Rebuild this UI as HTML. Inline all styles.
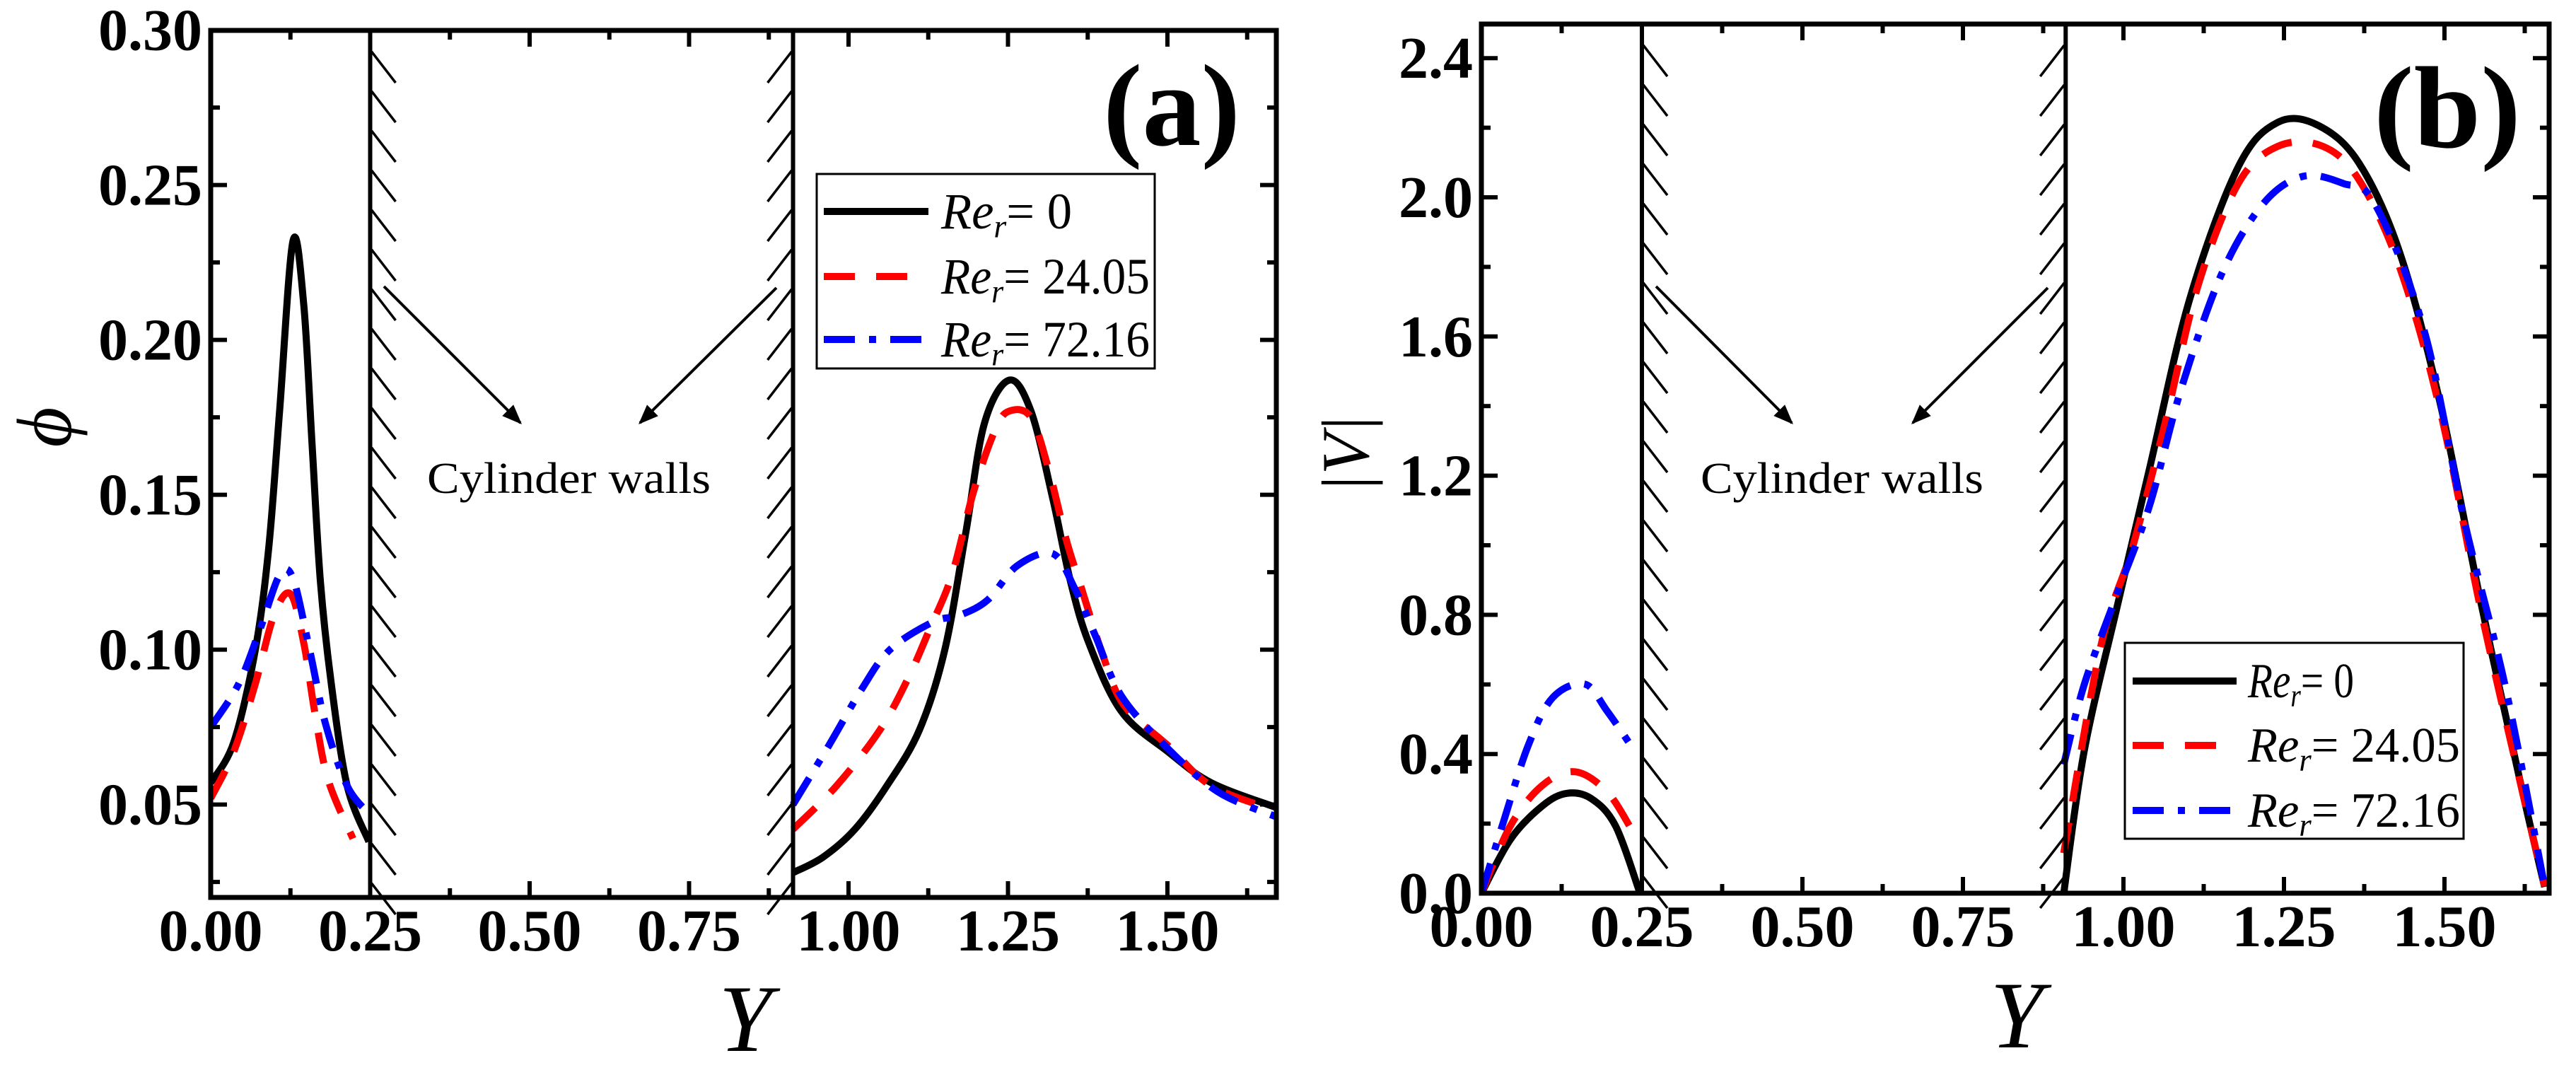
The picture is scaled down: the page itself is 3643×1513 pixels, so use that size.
<!DOCTYPE html>
<html><head><meta charset="utf-8">
<style>
html,body{margin:0;padding:0;background:#fff;}
svg{display:block;}
text{font-family:"Liberation Serif",serif;}
</style></head>
<body>
<svg id="fig" width="3643" height="1513" viewBox="0 0 3643 1513" xmlns="http://www.w3.org/2000/svg">
<defs>
<clipPath id="clipA"><rect x="298" y="43" width="1507" height="1226"/></clipPath>
<clipPath id="clipB"><rect x="2095" y="34" width="1510" height="1229"/></clipPath>
<marker id="arr" viewBox="0 0 10 10" refX="9" refY="5" markerWidth="7" markerHeight="7" orient="auto"><path d="M0,1 L10,5 L0,9 z" fill="#000"/></marker>
</defs>
<g id="panelA"></g>
<g id="panelB"></g>
</svg>
<script>
// ---------- Panel (a): phi ----------
const aBlackL_x=[0,0.036,0.07,0.091,0.108,0.129,0.146,0.159,0.172,0.189,0.214,0.248];
const aBlackL_y=[0.057,0.070,0.100,0.133,0.177,0.232,0.211,0.166,0.122,0.089,0.056,0.038];
const aRedL_x=[0,0.036,0.07,0.099,0.125,0.146,0.163,0.184,0.223];
const aRedL_y=[0.052,0.067,0.089,0.111,0.118,0.102,0.080,0.058,0.039];
const aBlueL_x=[0,0.044,0.078,0.108,0.129,0.155,0.180,0.214,0.248];
const aBlueL_y=[0.075,0.089,0.107,0.124,0.123,0.100,0.076,0.056,0.047];
const aBlackR_x=[0.913,0.960,1.010,1.060,1.111,1.151,1.184,1.213,1.252,1.286,1.320,1.348,1.377,1.428,1.501,1.569,1.671];
const aBlackR_y=[0.028,0.033,0.042,0.056,0.074,0.100,0.138,0.173,0.187,0.177,0.149,0.122,0.102,0.080,0.067,0.057,0.049];
const aRedR_x=[0.913,0.981,1.049,1.094,1.128,1.162,1.196,1.230,1.252,1.286,1.314,1.342,1.365,1.399,1.432,1.501,1.569,1.671];
const aRedR_y=[0.042,0.056,0.074,0.091,0.107,0.124,0.151,0.171,0.177,0.175,0.158,0.135,0.120,0.098,0.082,0.069,0.056,0.048];
const aBlueR_x=[0.913,0.969,1.020,1.065,1.133,1.173,1.218,1.264,1.320,1.354,1.388,1.428,1.501,1.580,1.671];
const aBlueR_y=[0.050,0.069,0.087,0.100,0.109,0.111,0.116,0.127,0.131,0.120,0.104,0.085,0.068,0.054,0.046];
const aYTicks=[0.05,0.10,0.15,0.20,0.25,0.30];
const aYLabels=["0.05","0.10","0.15","0.20","0.25","0.30"];
const xTicks=[0,0.25,0.5,0.75,1.0,1.25,1.5];
const xLabels=["0.00","0.25","0.50","0.75","1.00","1.25","1.50"];
// ---------- Panel (b): |V| ----------
const bBlackL_x=[0,0.045,0.095,0.133,0.171,0.209,0.247];
const bBlackL_y=[0,0.154,0.251,0.287,0.272,0.193,0];
const bRedL_x=[0,0.045,0.095,0.146,0.196,0.234];
const bRedL_y=[0,0.193,0.310,0.349,0.291,0.183];
const bBlueL_x=[0,0.035,0.073,0.111,0.161,0.196,0.240];
const bBlueL_y=[0,0.209,0.425,0.562,0.601,0.523,0.405];
const bBlackR_x=[0.907,0.939,0.990,1.040,1.103,1.179,1.241,1.304,1.367,1.430,1.493,1.556,1.619,1.656];
const bBlackR_y=[0,0.410,0.822,1.215,1.706,2.088,2.216,2.206,2.098,1.843,1.411,0.842,0.312,0.018];
const bRedR_x=[0.907,0.964,1.015,1.065,1.116,1.179,1.241,1.310,1.367,1.430,1.493,1.556,1.619,1.656];
const bRedR_y=[0.115,0.704,0.999,1.352,1.745,2.04,2.147,2.147,2.05,1.80,1.39,0.82,0.31,0.02];
const bBlueR_x=[0.907,0.939,0.990,1.040,1.090,1.153,1.217,1.279,1.342,1.392,1.468,1.531,1.594,1.656];
const bBlueR_y=[0.37,0.60,0.86,1.11,1.45,1.78,1.98,2.06,2.04,1.98,1.62,1.07,0.60,0.02];
const bYTicks=[0,0.4,0.8,1.2,1.6,2.0,2.4];
const bYLabels=["0.0","0.4","0.8","1.2","1.6","2.0","2.4"];
const legendLabels=["0","24.05","72.16"];

const NS="http://www.w3.org/2000/svg";
function el(tag,attrs,parent,txt){const e=document.createElementNS(NS,tag);for(const k in attrs)e.setAttribute(k,attrs[k]);if(txt!==undefined)e.textContent=txt;parent.appendChild(e);return e;}
function smooth(xs,ys,fx,fy){
  const p=xs.map((x,i)=>[fx(x),fy(ys[i])]);
  let d="M"+p[0][0].toFixed(1)+","+p[0][1].toFixed(1);
  for(let i=0;i<p.length-1;i++){
    const p0=p[i-1]||p[i],p1=p[i],p2=p[i+1],p3=p[i+2]||p2;
    const c1=[p1[0]+(p2[0]-p0[0])/6,p1[1]+(p2[1]-p0[1])/6];
    const c2=[p2[0]-(p3[0]-p1[0])/6,p2[1]-(p3[1]-p1[1])/6];
    d+=" C"+c1[0].toFixed(1)+","+c1[1].toFixed(1)+" "+c2[0].toFixed(1)+","+c2[1].toFixed(1)+" "+p2[0].toFixed(1)+","+p2[1].toFixed(1);
  }
  return d;
}
const styles={black:{stroke:"#000",dash:"none"},red:{stroke:"#ff0000",dash:"44 30"},blue:{stroke:"#0000ff",dash:"44 20 10 20"}};

function panel(g,cfg){
  const {x0,x1,top,bot,fx,fy,clip,scale}=cfg;
  const cg=el("g",{"clip-path":"url(#"+clip+")"},g);
  cfg.series.forEach(s=>{
    const p=el("path",{d:smooth(s.x,s.y,fx,fy),fill:"none",stroke:styles[s.c].stroke,"stroke-width":10,"stroke-dasharray":styles[s.c].dash,"stroke-linejoin":"round"},cg);
    
    
  });
  // walls
  [0.25,cfg.wall2].forEach((w,wi)=>{
    const X=fx(w);
    const l=el("line",{x1:X,y1:top,x2:X,y2:bot,stroke:"#000","stroke-width":6},g);
    
    
    for(let yy=top+30;yy<bot-10;yy+=56){
      if(wi===0) el("line",{x1:X+2,y1:yy,x2:X+36,y2:yy+44,stroke:"#000","stroke-width":3.5},g);
      else el("line",{x1:X-2,y1:yy,x2:X-36,y2:yy+44,stroke:"#000","stroke-width":3.5},g);
    }
  });
  // frame
  const fr=el("rect",{x:x0,y:top,width:x1-x0,height:bot-top,fill:"none",stroke:"#000","stroke-width":7},g);
  
  
  // x ticks
  for(let i=0;i<=13;i++){
    const X=fx(i*0.125);if(X>x1)break;const L=i%2===0?23:13;
    el("line",{x1:X,y1:bot,x2:X,y2:bot-L,stroke:"#000","stroke-width":6},g);
    el("line",{x1:X,y1:top,x2:X,y2:top+L,stroke:"#000","stroke-width":6},g);
  }
  xTicks.forEach((v,i)=>{
    const t=el("text",{x:fx(v),y:bot+75,"font-size":84,"font-weight":"bold","text-anchor":"middle"},g,xLabels[i]);
    
    
  });
  // y ticks
  cfg.yMinor.forEach(v=>{const Y=fy(v);
    el("line",{x1:x0,y1:Y,x2:x0+13,y2:Y,stroke:"#000","stroke-width":6},g);
    el("line",{x1:x1,y1:Y,x2:x1-13,y2:Y,stroke:"#000","stroke-width":6},g);});
  cfg.yTicks.forEach((v,i)=>{const Y=fy(v);
    el("line",{x1:x0,y1:Y,x2:x0+23,y2:Y,stroke:"#000","stroke-width":6},g);
    el("line",{x1:x1,y1:Y,x2:x1-23,y2:Y,stroke:"#000","stroke-width":6},g);
    const t=el("text",{x:x0-12,y:Y+28,"font-size":84,"font-weight":"bold","text-anchor":"end"},g,cfg.yLabels[i]);
    
    
  });
}

const gA=document.getElementById("panelA");
const fxA=v=>298+v*902, fyA=v=>1269-(v-0.02)*4380;
const aMinor=[0.025,0.075,0.125,0.175,0.225,0.275];
panel(gA,{x0:298,x1:1805,top:43,bot:1269,fx:fxA,fy:fyA,clip:"clipA",wall2:0.913,yTicks:aYTicks,yLabels:aYLabels,yMinor:aMinor,
 series:[{x:aBlackL_x,y:aBlackL_y,c:"black",name:"curve-re0-left"},{x:aRedL_x,y:aRedL_y,c:"red",name:"curve-re24-left"},{x:aBlueL_x,y:aBlueL_y,c:"blue",name:"curve-re72-left"},
 {x:aBlackR_x,y:aBlackR_y,c:"black",name:"curve-re0-right"},{x:aRedR_x,y:aRedR_y,c:"red",name:"curve-re24-right"},{x:aBlueR_x,y:aBlueR_y,c:"blue",name:"curve-re72-right"}]});

const gB=document.getElementById("panelB");
const fxB=v=>2095+v*908, fyB=v=>1263-v*492;
const bMinor=[0.2,0.6,1.0,1.4,1.8,2.2];
panel(gB,{x0:2095,x1:3605,top:34,bot:1263,fx:fxB,fy:fyB,clip:"clipB",wall2:0.910,yTicks:bYTicks,yLabels:bYLabels,yMinor:bMinor,
 series:[{x:bBlackL_x,y:bBlackL_y,c:"black",name:"curve-re0-left"},{x:bRedL_x,y:bRedL_y,c:"red",name:"curve-re24-left"},{x:bBlueL_x,y:bBlueL_y,c:"blue",name:"curve-re72-left"},
 {x:bBlackR_x,y:bBlackR_y,c:"black",name:"curve-re0-right"},{x:bRedR_x,y:bRedR_y,c:"red",name:"curve-re24-right"},{x:bBlueR_x,y:bBlueR_y,c:"blue",name:"curve-re72-right"}]});

// annotations
function arrow(g,x1,y1,x2,y2){const a=el("line",{x1:x1,y1:y1,x2:x2,y2:y2,stroke:"#000","stroke-width":4,"marker-end":"url(#arr)"},g);
  
  }
arrow(gA,543,405,736,598); arrow(gA,1098,407,905,598);
arrow(gB,2342,405,2534,598); arrow(gB,2896,407,2705,598);
let t=el("text",{x:604,y:697,"font-size":62,textLength:401,lengthAdjust:"spacingAndGlyphs"},gA,"Cylinder walls");


t=el("text",{x:2405,y:697,"font-size":62,textLength:400,lengthAdjust:"spacingAndGlyphs"},gB,"Cylinder walls");


t=el("text",{x:1560,y:205,"font-size":165,"font-weight":"bold",textLength:194,lengthAdjust:"spacingAndGlyphs"},gA,"(a)");


t=el("text",{x:3357,y:208,"font-size":165,"font-weight":"bold",textLength:208,lengthAdjust:"spacingAndGlyphs"},gB,"(b)");


t=el("text",{x:1054,y:1486,"font-size":135,"font-style":"italic","text-anchor":"middle"},gA,"Y");


t=el("text",{x:2852,y:1481,"font-size":135,"font-style":"italic","text-anchor":"middle"},gB,"Y");


t=el("text",{x:0,y:0,"font-size":110,"font-style":"italic","text-anchor":"middle",transform:"translate(100,604) rotate(-90)"},gA,"ϕ");


t=el("text",{x:0,y:0,"font-size":95,"font-style":"italic","text-anchor":"middle",transform:"translate(1935,642) rotate(-90)"},gB,"|V|");



// legends
const cols=["#000","#ff0000","#0000ff"], dashes=["none","44 30","44 20 10 20"];
function legend(g,bx,by,bw,bh,lx1,lx2,tx,rows,fs,tw){
  const lg=el("g",{},g);
  
  
  el("rect",{x:bx,y:by,width:bw,height:bh,fill:"#fff",stroke:"#000","stroke-width":3},lg);
  rows.forEach((ry,i)=>{
    const e=el("g",{},lg);
    
    
    el("line",{x1:lx1,y1:ry,x2:lx2,y2:ry,stroke:cols[i],"stroke-width":10,"stroke-dasharray":dashes[i]},e);
    const tt=el("text",{x:tx,y:ry+fs*0.33,"font-size":fs},e);
    const a=document.createElementNS(NS,"tspan");a.setAttribute("font-style","italic");a.textContent="Re";tt.appendChild(a);
    const b=document.createElementNS(NS,"tspan");b.setAttribute("font-style","italic");b.setAttribute("font-size",fs*0.65);b.setAttribute("dy",fs*0.18);b.textContent="r";tt.appendChild(b);
    const c=document.createElementNS(NS,"tspan");c.setAttribute("dy",-fs*0.18);c.textContent="= "+legendLabels[i];tt.appendChild(c);
    tt.setAttribute("textLength",tw[i]);tt.setAttribute("lengthAdjust","spacingAndGlyphs");
  });
}
legend(gA,1155,246,478,275,1165,1313,1331,[299,391,480],72,[185,295,295]);
legend(gB,3005,909,479,277,3016,3163,3179,[963,1054,1146],70,[150,300,300]);
</script>
</body></html>
